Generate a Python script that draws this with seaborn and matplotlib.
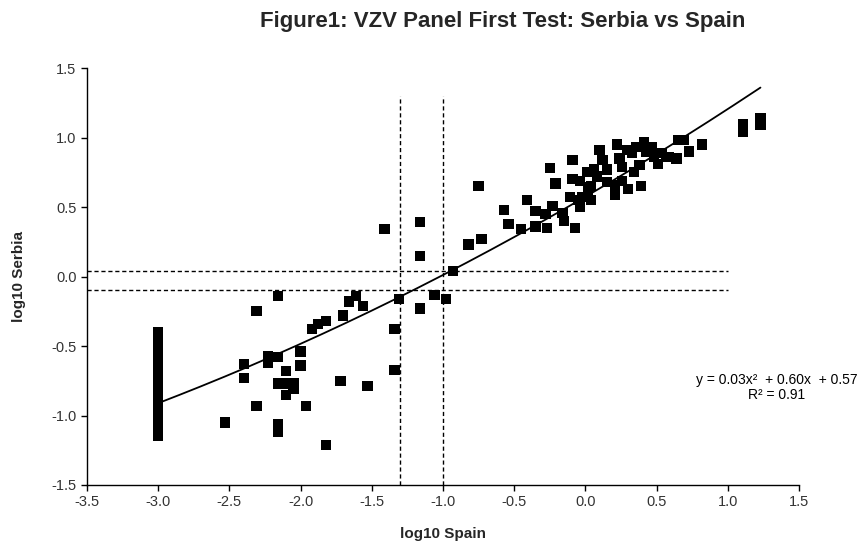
import matplotlib
import matplotlib.pyplot as plt
import numpy as np
import pandas as pd
import seaborn as sns

matplotlib.use("Agg")

# log10 Spain (x) and log10 Serbia (y)
SPAIN = [
    -3.0, -3.0, -3.0, -3.0, -3.0, -3.0, -3.0, -3.0, -3.0, -3.0, -3.0,
    -3.0, -3.0, -3.0, -3.0, -3.0, -3.0, -3.0, -3.0, -3.0, -3.0, -3.0,
    -2.53, -2.40, -2.40, -2.31, -2.31, -2.23, -2.23, -2.16, -2.16, -2.16,
    -2.16, -2.16, -2.10, -2.10, -2.10, -2.05, -2.05, -2.00, -2.00, -1.96,
    -1.92, -1.88, -1.82, -1.82, -1.72, -1.70, -1.66, -1.61, -1.56, -1.53,
    -1.41, -1.34, -1.34, -1.31, -1.16, -1.16, -1.16, -1.06, -0.98, -0.93,
    -0.82, -0.73, -0.75,
    -0.57, -0.54, -0.45, -0.41, -0.35, -0.35, -0.28, -0.27, -0.25, -0.23,
    -0.21, -0.16, -0.15, -0.11, -0.09, -0.09, -0.07, -0.05, -0.04, -0.04,
    -0.02, 0.01, 0.02, 0.02, 0.04, 0.04, 0.06, 0.08, 0.10, 0.12,
    0.15, 0.15, 0.21, 0.22, 0.21, 0.24, 0.26, 0.26, 0.29, 0.30,
    0.33, 0.34, 0.36, 0.38, 0.39, 0.41, 0.43, 0.47, 0.48, 0.51,
    0.54, 0.57, 0.59, 0.64, 0.65, 0.69, 0.73, 0.82, 1.11, 1.11,
    1.23, 1.23,
]
SERBIA = [
    -0.40, -0.43, -0.47, -0.50, -0.53, -0.56, -0.60, -0.62, -0.66, -0.70, -0.74,
    -0.78, -0.82, -0.85, -0.88, -0.92, -0.96, -1.00, -1.04, -1.08, -1.12, -1.15,
    -1.05, -0.63, -0.73, -0.25, -0.93, -0.57, -0.62, -0.14, -0.58, -0.77,
    -1.06, -1.12, -0.68, -0.77, -0.85, -0.77, -0.81, -0.54, -0.64, -0.93,
    -0.38, -0.34, -0.32, -1.21, -0.75, -0.28, -0.18, -0.14, -0.21, -0.79,
    0.34, -0.38, -0.67, -0.16, -0.23, 0.15, 0.39, -0.13, -0.16, 0.04,
    0.23, 0.27, 0.65,
    0.48, 0.38, 0.34, 0.55, 0.36, 0.47, 0.45, 0.35, 0.78, 0.51,
    0.67, 0.46, 0.40, 0.57, 0.84, 0.70, 0.35, 0.55, 0.69, 0.50,
    0.57, 0.75, 0.64, 0.58, 0.55, 0.65, 0.77, 0.72, 0.91, 0.84,
    0.68, 0.77, 0.59, 0.95, 0.66, 0.85, 0.69, 0.79, 0.91, 0.63,
    0.89, 0.75, 0.93, 0.80, 0.65, 0.97, 0.90, 0.93, 0.86, 0.81,
    0.89, 0.86, 0.86, 0.85, 0.98, 0.98, 0.90, 0.95, 1.10, 1.04,
    1.14, 1.09,
]

# second-order trend line (a, b, c), matching the printed equation
TREND_COEF = [0.034, 0.597, 0.574]
CUTOFF_X = [-1.3, -1.0]
CUTOFF_Y = [0.04, -0.10]
X_TICKS = [-3.5, -3.0, -2.5, -2.0, -1.5, -1.0, -0.5, 0.0, 0.5, 1.0, 1.5]
Y_TICKS = [-1.5, -1.0, -0.5, 0.0, 0.5, 1.0, 1.5]
TITLE = "Figure1: VZV Panel First Test: Serbia vs Spain"
EQUATION = "y = 0.03x²  + 0.60x  + 0.57\nR² = 0.91"

df = pd.DataFrame({"log10 Spain": SPAIN, "log10 Serbia": SERBIA})

sns.set_style("ticks")
plt.rcParams["font.family"] = ["Liberation Sans", "DejaVu Sans"]

fig = plt.figure(figsize=(8.66, 5.5), dpi=100)
ax = fig.add_axes([0.1005, 0.1182, 0.822, 0.758])

# cut-off lines
for xv in CUTOFF_X:
    ax.plot([xv, xv], [-1.5, 1.3], color="black", lw=1, ls=(0, (3, 2)))
for yv in CUTOFF_Y:
    ax.plot([-3.5, 1.0], [yv, yv], color="black", lw=1, ls=(0, (3, 2)))

# trend line over the data range
trend_x = np.linspace(min(SPAIN), max(SPAIN), 200)
trend_y = np.polyval(TREND_COEF, trend_x)
sns.lineplot(x=trend_x, y=trend_y, color="black", lw=1.3, ax=ax)

sns.scatterplot(data=df, x="log10 Spain", y="log10 Serbia", marker="s", s=54,
                color="black", edgecolor="none", ax=ax, zorder=3)

ax.set_xlim(-3.5, 1.5)
ax.set_ylim(-1.5, 1.5)
ax.set_xticks(X_TICKS)
ax.set_yticks(Y_TICKS)
ax.set_xticklabels([f"{v:.1f}" for v in X_TICKS])
ax.set_yticklabels([f"{v:.1f}" for v in Y_TICKS])
ax.tick_params(labelsize=10.5, colors="black", labelcolor="#333333", length=4, width=1)
sns.despine(ax=ax)
for side in ["left", "bottom"]:
    ax.spines[side].set_color("black")
    ax.spines[side].set_linewidth(1)

ax.set_xlabel("log10 Spain", fontsize=11, fontweight="bold")
ax.set_ylabel("log10 Serbia", fontsize=11, fontweight="bold")
ax.xaxis.set_label_coords(0.5, -0.10)
ax.yaxis.set_label_coords(-0.086, 0.5)

ax.text(1.345, -0.80, EQUATION, fontsize=10, ha="center", va="center",
        multialignment="center", color="black", clip_on=False, linespacing=1.05)

fig.text(0.581, 0.96, TITLE, fontsize=16, fontweight="bold", ha="center", va="center")

fig.savefig("out.png", dpi=100)
